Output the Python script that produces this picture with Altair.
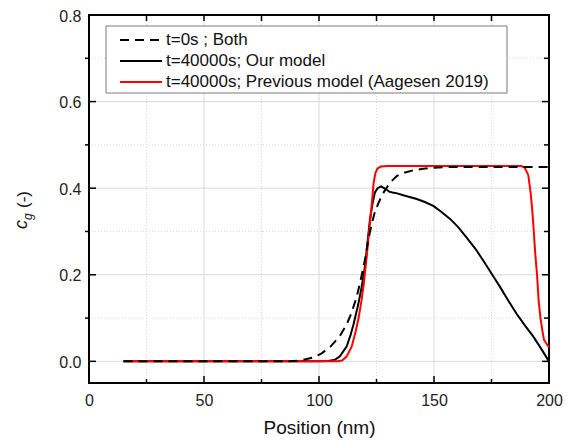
import altair as alt
import pandas as pd

# ---- data ----
x_t0 = [15, 85, 92, 97.5, 101, 105, 109, 112, 114, 116.4, 118, 120, 121.4, 122.9, 124.3, 125.8,
        127.5, 129.4, 131.5, 133.8, 136.7, 140, 145.3, 150, 155, 200]
y_t0 = [0, 0, 0.002, 0.009, 0.018, 0.034, 0.058, 0.085, 0.11, 0.149, 0.185, 0.235, 0.28, 0.317,
        0.345, 0.365, 0.385, 0.401, 0.416, 0.428, 0.435, 0.44, 0.445, 0.447, 0.449, 0.449]

x_our = [15, 100, 104, 107, 109, 112, 113.5, 115, 117, 118.5, 120, 121, 122.2, 123.3, 124.3, 125.5,
         127, 129, 130.5, 132, 134, 137, 142.5, 146, 149.7, 153, 157, 160.5, 164.2, 168, 171.4, 175,
         178.7, 182, 185.9, 189.5, 193.2, 196.5, 200]
y_our = [0, 0, 0.001, 0.004, 0.011, 0.034, 0.057, 0.085, 0.13, 0.17, 0.22, 0.27, 0.33, 0.365, 0.39,
         0.4, 0.404, 0.398, 0.392, 0.39, 0.388, 0.383, 0.375, 0.368, 0.359, 0.346, 0.329, 0.31, 0.286,
         0.26, 0.233, 0.203, 0.172, 0.143, 0.11, 0.083, 0.057, 0.03, 0.0]

x_prev = [15, 108, 110, 112, 114.2, 116, 117.2, 118.5, 119.5, 120.7, 121.8, 122.9, 123.7, 124.5, 125.5,
          127, 130, 188, 189.5, 191, 192, 192.7, 193.4, 194, 194.8, 195.5, 196.3, 197, 197.8, 199, 200]
y_prev = [0, 0, 0.002, 0.011, 0.034, 0.07, 0.1, 0.141, 0.18, 0.24, 0.3, 0.36, 0.41, 0.435, 0.446,
          0.45, 0.451, 0.451, 0.447, 0.43, 0.39, 0.35, 0.3, 0.25, 0.2, 0.14, 0.1, 0.075, 0.05, 0.04, 0.033]

legend_labels = ["t=0s ; Both", "t=40000s; Our model", "t=40000s; Previous model (Aagesen 2019)"]

x_major = [50, 100, 150]
x_minor = [25, 75, 125, 175]
y_major = [0.0, 0.2, 0.4, 0.6]
y_minor = [0.1, 0.3, 0.5, 0.7]
x_labels = [0, 50, 100, 150, 200]
y_labels = [0.0, 0.2, 0.4, 0.6, 0.8]

W, H = 460, 368
FONT = "Liberation Sans"

xs = alt.Scale(domain=[0, 200], nice=False, zero=False)
ys = alt.Scale(domain=[-0.05, 0.8], nice=False, zero=False)

df_t0 = pd.DataFrame({"x": x_t0, "y": y_t0})
df_our = pd.DataFrame({"x": x_our, "y": y_our})
df_prev = pd.DataFrame({"x": x_prev, "y": y_prev})

# grid lines
gx_major = alt.Chart(pd.DataFrame({"v": x_major})).mark_rule(color="#dadada", strokeWidth=1).encode(
    x=alt.X("v:Q", scale=xs,
            axis=alt.Axis(values=x_labels, format="d", labelFontSize=16, labelFont=FONT, labelColor="#222",
                          labelPadding=9, labelFlush=False, ticks=False, domain=False, grid=False,
                          title="Position (nm)", titleFont=FONT, titleFontSize=19, titleFontWeight="normal",
                          titleColor="#111", titlePadding=10)))
gx_minor = alt.Chart(pd.DataFrame({"v": x_minor})).mark_rule(color="#d8d8d8", strokeWidth=1, strokeDash=[1, 2]).encode(
    x=alt.X("v:Q", scale=xs))
gy_major = alt.Chart(pd.DataFrame({"v": y_major})).mark_rule(color="#dadada", strokeWidth=1).encode(
    y=alt.Y("v:Q", scale=ys,
            axis=alt.Axis(values=y_labels, format=".1f", labelFontSize=16, labelFont=FONT, labelColor="#222",
                          labelPadding=8, labelFlush=False, labelOffset=1, ticks=False, domain=False,
                          grid=False, title=None)))
gy_minor = alt.Chart(pd.DataFrame({"v": y_minor})).mark_rule(color="#d8d8d8", strokeWidth=1, strokeDash=[1, 2]).encode(
    y=alt.Y("v:Q", scale=ys))

# plot frame
frame = alt.Chart(pd.DataFrame({"a": [0]})).mark_rect(fillOpacity=0, stroke="black", strokeWidth=2).encode(
    x=alt.value(0), x2=alt.value(W), y=alt.value(0), y2=alt.value(H))

# curves: our model (bottom), previous model, t=0 dashed on top
line_our = alt.Chart(df_our).mark_line(color="black", strokeWidth=2).encode(
    x=alt.X("x:Q", scale=xs), y=alt.Y("y:Q", scale=ys))
line_prev = alt.Chart(df_prev).mark_line(color="#ff0000", strokeWidth=2).encode(
    x=alt.X("x:Q", scale=xs), y=alt.Y("y:Q", scale=ys))
line_t0 = alt.Chart(df_t0).mark_line(color="black", strokeWidth=2, strokeDash=[9, 6]).encode(
    x=alt.X("x:Q", scale=xs), y=alt.Y("y:Q", scale=ys))

# inward ticks
def xticks(vals, length):
    d = pd.DataFrame({"v": vals})
    bot = alt.Chart(d).mark_rule(color="black", strokeWidth=1.5).encode(
        x=alt.X("v:Q", scale=xs), y=alt.value(H), y2=alt.value(H - length))
    top = alt.Chart(d).mark_rule(color="black", strokeWidth=1.5).encode(
        x=alt.X("v:Q", scale=xs), y=alt.value(0), y2=alt.value(6))
    return [bot, top]

def yticks(vals, left_a, left_b, right_len):
    d = pd.DataFrame({"v": vals})
    left = alt.Chart(d).mark_rule(color="black", strokeWidth=1.5).encode(
        y=alt.Y("v:Q", scale=ys), x=alt.value(left_a), x2=alt.value(left_b))
    right = alt.Chart(d).mark_rule(color="black", strokeWidth=1.5).encode(
        y=alt.Y("v:Q", scale=ys), x=alt.value(W), x2=alt.value(W - right_len))
    return [left, right]

ticks = xticks(x_major, 7) + xticks(x_minor, 4) + yticks(y_major, 0, 7, 7) + yticks(y_minor, -4, 0, 5)

# y title  c_g (-)
yt_c = alt.Chart(pd.DataFrame({"t": ["c"]})).mark_text(
    angle=270, align="left", baseline="alphabetic", font=FONT, fontSize=18, fontStyle="italic", color="#111"
).encode(x=alt.value(-62), y=alt.value(214), text="t:N")
yt_g = alt.Chart(pd.DataFrame({"t": ["g"]})).mark_text(
    angle=270, align="left", baseline="alphabetic", font=FONT, fontSize=12, fontStyle="italic", color="#111"
).encode(x=alt.value(-57), y=alt.value(205), text="t:N")
yt_p = alt.Chart(pd.DataFrame({"t": ["(-)"]})).mark_text(
    angle=270, align="left", baseline="alphabetic", font=FONT, fontSize=17, color="#111"
).encode(x=alt.value(-60), y=alt.value(193), text="t:N")

# legend
leg_box = alt.Chart(pd.DataFrame({"a": [0]})).mark_rect(fill="white", stroke="#7a7a7a", strokeWidth=1).encode(
    x=alt.value(17), x2=alt.value(418), y=alt.value(11), y2=alt.value(78))
leg_rows = [25, 46, 67]
leg_styles = [dict(color="black", strokeDash=[9, 6]), dict(color="black"), dict(color="#ff0000")]
leg_layers = []
for lab, yy, st in zip(legend_labels, leg_rows, leg_styles):
    leg_layers.append(alt.Chart(pd.DataFrame({"a": [0]})).mark_rule(strokeWidth=2, **st).encode(
        x=alt.value(31), x2=alt.value(73), y=alt.value(yy)))
    leg_layers.append(alt.Chart(pd.DataFrame({"t": [lab]})).mark_text(
        align="left", baseline="middle", font=FONT, fontSize=17, color="#111").encode(
        x=alt.value(77), y=alt.value(yy), text="t:N"))

chart = alt.layer(
    gx_minor, gy_minor, gx_major, gy_major, frame,
    line_our, line_prev, line_t0,
    *ticks,
    leg_box, *leg_layers,
    yt_c, yt_g, yt_p,
).properties(
    width=W, height=H,
    autosize=alt.AutoSizeParams(type="none"),
    padding={"left": 81, "top": 7, "right": 14, "bottom": 62},
).configure_view(stroke="black", strokeWidth=2).configure(background="white")

chart.save("out.html", embed_options={"renderer": "svg", "actions": False})
